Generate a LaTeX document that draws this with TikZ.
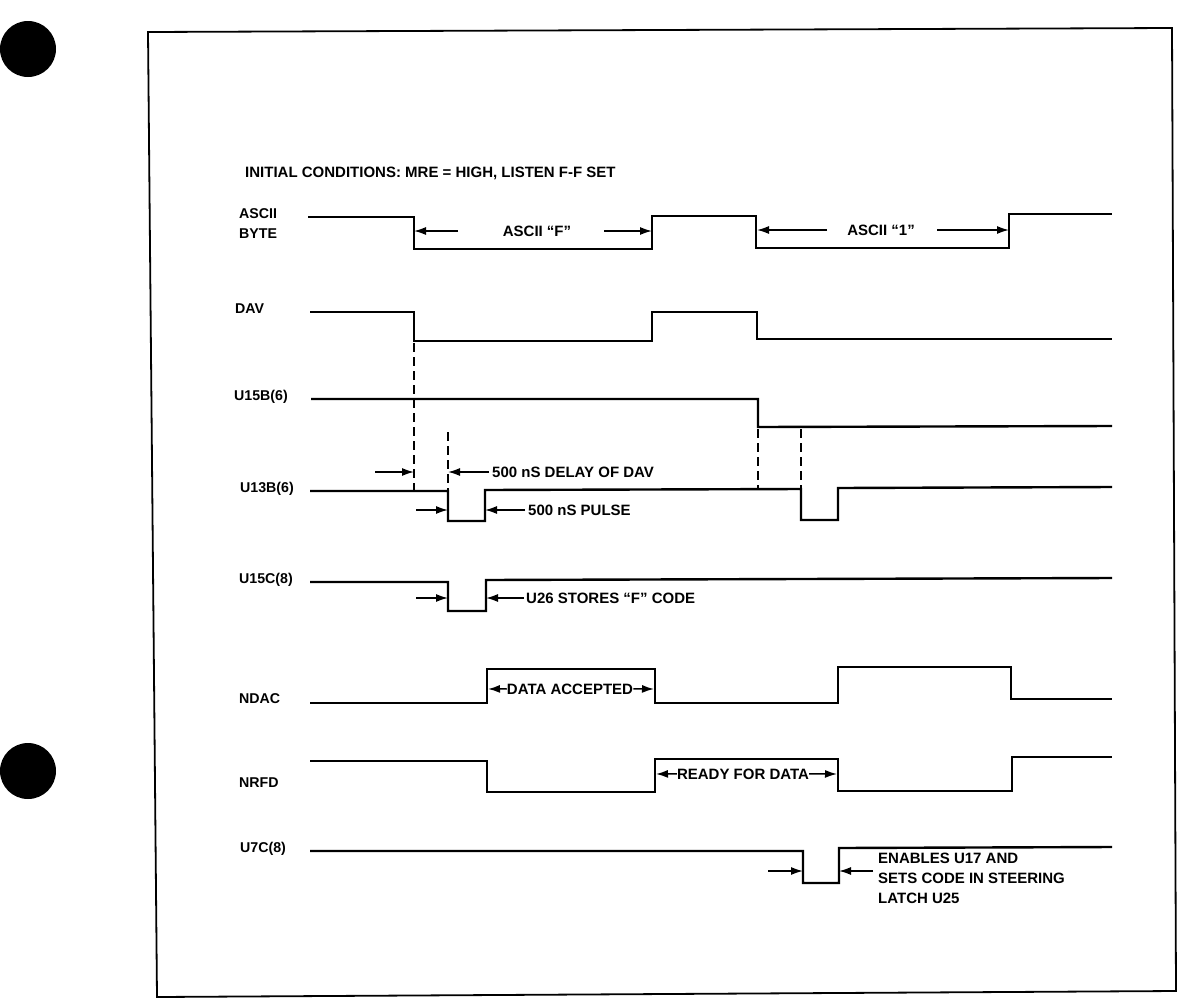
\documentclass[tikz,border=0pt]{standalone}
\usepackage{fontspec}
\setmainfont{Liberation Sans}
\usetikzlibrary{arrows.meta}
\begin{document}
\begin{tikzpicture}[x=1pt,y=-1pt,
  wave/.style={line width=2.4pt, line join=miter},
  guide/.style={line width=1.1pt, dash pattern=on 9pt off 5pt},
  dim/.style={line width=1.5pt, -{Latex[length=12pt,width=8pt]}},
  frame/.style={line width=1.8pt},
  hole/.style={fill=black},
  lbl/.style={font=\fontsize{14.2}{20}\selectfont\bfseries, inner sep=0pt, anchor=base west},
  note/.style={font=\fontsize{15}{20}\selectfont\bfseries, inner sep=0pt}
]
\useasboundingbox (0,0) rectangle (1200,1002);
% punch holes and frame
\fill[hole] (28,49) circle (28);
\fill[hole] (28,771) circle (28);
\draw[frame] (148,32) -- (1172,28) -- (1176,991) -- (157,997) -- cycle;

% heading
\node[note, anchor=base west] (init) at (245,177) {INITIAL CONDITIONS: MRE = HIGH, LISTEN F-F SET};

% signal labels
\node[lbl] (lascii) at (239,218) {ASCII};
\node[lbl] (lbyte) at (239,238) {BYTE};
\node[lbl] (ldav) at (235,313) {DAV};
\node[lbl] (lu15b) at (234,400) {U15B(6)};
\node[lbl] (lu13b) at (240,492) {U13B(6)};
\node[lbl] (lu15c) at (239,583) {U15C(8)};
\node[lbl] (lndac) at (239,703) {NDAC};
\node[lbl] (lnrfd) at (239,787) {NRFD};
\node[lbl] (lu7c) at (240,852) {U7C(8)};

% waveforms
\draw[wave] (308,217) -- (414,217) -- (414,249) -- (652,249) -- (652,216) -- (756,216) -- (756,248) -- (1009,248) -- (1009,214) -- (1112,214);
\draw[wave] (310,312) -- (414,312) -- (414,341) -- (652,341) -- (652,312) -- (757,312) -- (757,339) -- (1112,339);
\draw[wave] (311,399) -- (758,399) -- (758,427) -- (1112,426);
\draw[wave] (310,491) -- (448,491) -- (448,521) -- (485,521) -- (485,490) -- (801,489) -- (801,520) -- (838,520) -- (838,488) -- (1112,487);
\draw[wave] (310,582) -- (448,582) -- (448,611) -- (486,611) -- (486,580) -- (1112,578);
\draw[wave] (310,703) -- (487,703) -- (487,669) -- (655,669) -- (655,703) -- (838,703) -- (838,667) -- (1011,667) -- (1011,699) -- (1112,699);
\draw[wave] (310,761) -- (487,761) -- (487,792) -- (655,792) -- (655,759) -- (838,759) -- (838,791) -- (1012,791) -- (1012,757) -- (1112,757);
\draw[wave] (310,851) -- (803,851) -- (803,883) -- (839,883) -- (839,848) -- (1112,847);

% guide lines
\draw[guide] (414,343) -- (414,490);
\draw[guide] (448,432) -- (448,490);
\draw[guide] (758,429) -- (758,488);
\draw[guide] (801,429) -- (801,488);

% ASCII "F" / "1"
\coordinate (fL) at (414,231); \coordinate (fR) at (652,231);
\coordinate (oL) at (757,230); \coordinate (oR) at (1009,230);
\node[note, anchor=base] (tF) at (537,236) {ASCII “F”};
\node[note, anchor=base] (t1) at (881,235) {ASCII “1”};
\draw[dim] (458,231) -- (fL);
\draw[dim] (604,231) -- (fR);
\draw[dim] (827,230) -- (oL);
\draw[dim] (937,230) -- (oR);

% U13B arrows
\coordinate (d1) at (414,472); \coordinate (d2) at (448,472);
\coordinate (d2t) at (489,472);
\node[note, anchor=base west] (tdelay) at (492,477) {500 nS DELAY OF DAV};
\draw[dim] (375,472) -- (d1);
\draw[dim] (d2t) -- (d2);
\coordinate (p1) at (448,510); \coordinate (p2) at (485,510);
\node[note, anchor=base west] (tpulse) at (528,515) {500 nS PULSE};
\draw[dim] (416,510) -- (p1);
\draw[dim] (525,510) -- (p2);

% U15C arrows
\coordinate (s1) at (448,598); \coordinate (s2) at (486,598);
\node[note, anchor=base west] (tstore) at (526,603) {U26 STORES “F” CODE};
\draw[dim] (416,598) -- (s1);
\draw[dim] (524,598) -- (s2);

% NDAC
\node[note, anchor=base] (tacc) at (570,694) {DATA ACCEPTED};
\coordinate (a1) at (488,689); \coordinate (a2) at (654,689);
\draw[dim] (tacc.west) -- (a1);
\draw[dim] (tacc.east) -- (a2);

% NRFD
\node[note, anchor=base] (tready) at (743,779) {READY FOR DATA};
\coordinate (r1) at (656,774); \coordinate (r2) at (837,774);
\draw[dim] (tready.west) -- (r1);
\draw[dim] (tready.east) -- (r2);

% U7C
\coordinate (e1) at (803,871); \coordinate (e2) at (839,871);
\draw[dim] (768,871) -- (e1);
\draw[dim] (873,871) -- (e2);
\node[note, anchor=north west, align=left] (tenable) at (878,853) {ENABLES U17 AND\\SETS CODE IN STEERING\\LATCH U25};
\end{tikzpicture}
\end{document}
